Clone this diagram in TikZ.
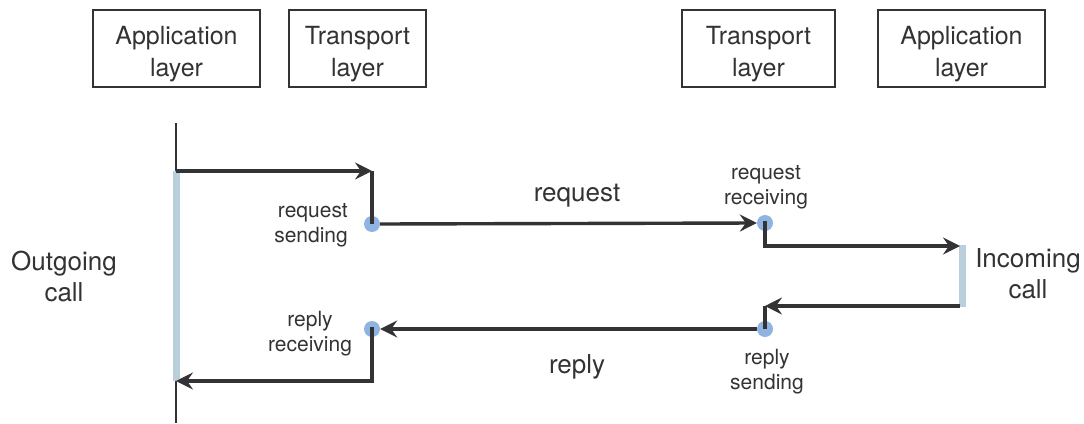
\documentclass[tikz,border=0pt]{standalone}
\usepackage{fontspec}
\setmainfont{TeX Gyre Heros}
\usetikzlibrary{arrows.meta}
\definecolor{ink}{HTML}{333336}
\definecolor{barblue}{HTML}{B9CFDC}
\definecolor{dotblue}{HTML}{8FB4E0}
\tikzset{
  layerbox/.style={draw=ink, line width=1.4pt, minimum width=#1, minimum height=77pt,
    align=center, font=\fontsize{25}{32}\selectfont, text=ink, inner sep=0pt,
    text height=66pt, text depth=11pt},
  event/.style={circle, fill=dotblue, minimum size=16pt, inner sep=0pt},
  msg/.style={draw=ink, line width=3.4pt,
    -{Stealth[length=17pt, width=17pt, inset=6pt]}},
  link/.style={draw=ink, line width=3.4pt},
  small/.style={font=\fontsize{21}{25}\selectfont, text=ink, align=#1, inner sep=0pt},
  big/.style={font=\fontsize{26}{31}\selectfont, text=ink, align=center, inner sep=0pt},
  bar/.style={draw=barblue, line width=7pt}
}
\begin{document}
\begin{tikzpicture}[x=1pt, y=-1pt]
  \useasboundingbox (0,0) rectangle (1084,423);

  % layer headers
  \node[layerbox=167pt] (appL) at (176.5,48.5) {Application\\layer};
  \node[layerbox=137pt] (trL)  at (357.5,48.5) {Transport\\layer};
  \node[layerbox=153pt] (trR)  at (758.5,48.5) {Transport\\layer};
  \node[layerbox=167pt] (appR) at (961.5,48.5) {Application\\layer};

  % caller lifeline and its activation bar
  \coordinate (lifeTop) at (176,123);
  \coordinate (lifeBot) at (176,423);
  \draw[draw=ink, line width=2.2pt] (lifeTop) -- (lifeBot);
  \coordinate (outA) at (176,171);
  \coordinate (outB) at (176,381);
  \draw[bar] (outA) -- (outB);

  % callee activation bar
  \coordinate (inA) at (962,245);
  \coordinate (inB) at (962,307);
  \draw[bar] (inA) -- (inB);

  % events
  \node[event] (reqSend) at (372,224) {};
  \node[event] (reqRecv) at (765,223) {};
  \node[event] (repSend) at (765,329) {};
  \node[event] (repRecv) at (372,329) {};

  % corners of the call path
  \coordinate (c1) at (372,171);
  \coordinate (c2) at (765,246);
  \coordinate (c3) at (960,246);
  \coordinate (c4) at (960,306);
  \coordinate (c5) at (765,306);
  \coordinate (c6) at (372,381);

  % request path
  \draw[msg] (outA) -- (c1);
  \draw[link] (c1) -- (reqSend.center);
  \draw[msg] (reqSend.east) -- (reqRecv.west);
  \draw[link, line cap=rect] (reqRecv.center) -- (c2);
  \draw[msg] (c2) -- (c3);

  % reply path
  \draw[msg] (c4) -- (c5);
  \draw[link] (c5) -- (repSend.center);
  \draw[msg] (repSend.west) -- (repRecv.east);
  \draw[link, line cap=rect] (repRecv.center) -- (c6);
  \draw[msg] (c6) -- (outB);

  % labels
  \node[big] (lblReq) at (577,196) {request};
  \node[big] (lblRep) at (577,367) {reply};
  \node[big] (lblOut) at (64,276) {Outgoing\\call};
  \node[big] (lblIn)  at (1028,274) {Incoming\\call};
  \node[small=right, anchor=east] (lblReqSend) at (348,225) {request\\sending};
  \node[small=center] (lblReqRecv) at (766,187) {request\\receiving};
  \node[small=center] (lblRepRecv) at (310,334) {reply\\receiving};
  \node[small=center] (lblRepSend) at (767,372) {reply\\sending};
\end{tikzpicture}
\end{document}
